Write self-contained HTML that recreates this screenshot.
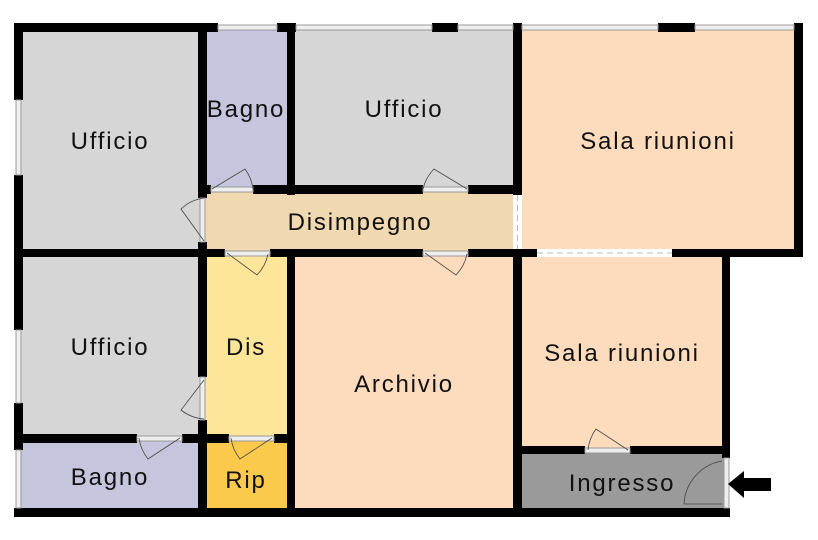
<!DOCTYPE html>
<html><head><style>
html,body{margin:0;padding:0;background:#fff;}
svg{display:block;}
text{font-family:"Liberation Sans",sans-serif;font-size:24px;fill:#111;text-anchor:middle;letter-spacing:1.8px;}
</style></head><body>
<svg width="818" height="540" viewBox="0 0 818 540" xmlns="http://www.w3.org/2000/svg">
<rect x="20" y="28" width="182" height="225" fill="#d6d6d6"/>
<rect x="202" y="28" width="89" height="162" fill="#c5c5de"/>
<rect x="291" y="28" width="227" height="162" fill="#d6d6d6"/>
<rect x="518" y="28" width="280" height="225" fill="#fddcbd"/>
<rect x="202" y="190" width="316" height="63" fill="#f0d8b0"/>
<rect x="20" y="253" width="182" height="186" fill="#d6d6d6"/>
<rect x="202" y="253" width="89" height="186" fill="#fde59a"/>
<rect x="291" y="253" width="227" height="260" fill="#fddcbd"/>
<rect x="518" y="253" width="208" height="197" fill="#fddcbd"/>
<rect x="20" y="439" width="182" height="74" fill="#c5c5de"/>
<rect x="202" y="439" width="89" height="74" fill="#fbc94b"/>
<rect x="518" y="450" width="208" height="63" fill="#9a9a9a"/>
<g fill="#000">
<rect x="14" y="23" width="204" height="9"/>
<rect x="277" y="23" width="19" height="9"/>
<rect x="432" y="23" width="26" height="9"/>
<rect x="513" y="23" width="9" height="9"/>
<rect x="658" y="23" width="37" height="9"/>
<rect x="794" y="23" width="9" height="234"/>
<rect x="14" y="23" width="9" height="77"/>
<rect x="14" y="175" width="9" height="155"/>
<rect x="14" y="403" width="9" height="47"/>
<rect x="14" y="508" width="716" height="9"/>
<rect x="722" y="249" width="8" height="209"/>
<rect x="672" y="249" width="131" height="8"/>
<rect x="198" y="23" width="9" height="175"/>
<rect x="198" y="242" width="9" height="135"/>
<rect x="198" y="420" width="9" height="97"/>
<rect x="287" y="23" width="8" height="172"/>
<rect x="287" y="249" width="8" height="268"/>
<rect x="513" y="23" width="9" height="172"/>
<rect x="513" y="249" width="9" height="268"/>
<rect x="198" y="185" width="13" height="9"/>
<rect x="253" y="185" width="170" height="9"/>
<rect x="468" y="185" width="54" height="9"/>
<rect x="14" y="249" width="211" height="8"/>
<rect x="270" y="249" width="153" height="8"/>
<rect x="468" y="249" width="69" height="8"/>
<rect x="14" y="434" width="123" height="9"/>
<rect x="182" y="434" width="47" height="9"/>
<rect x="274" y="434" width="21" height="9"/>
<rect x="513" y="446" width="72" height="8"/>
<rect x="630" y="446" width="100" height="8"/>
</g>
<g fill="#eee" stroke="#999" stroke-width="1">
<rect x="218" y="25" width="59" height="5"/>
<rect x="296" y="25" width="136" height="5"/>
<rect x="458" y="25" width="55" height="5"/>
<rect x="522" y="25" width="136" height="5"/>
<rect x="695" y="25" width="99" height="5"/>
<rect x="16" y="100" width="5" height="75"/>
<rect x="16" y="330" width="5" height="73"/>
<rect x="16" y="450" width="5" height="58"/>
<rect x="724" y="458" width="5" height="50"/>
<rect x="211" y="187" width="42" height="5"/>
<rect x="423" y="187" width="45" height="5"/>
<rect x="200" y="198" width="5" height="44"/>
<rect x="225" y="251" width="45" height="5"/>
<rect x="423" y="251" width="45" height="5"/>
<rect x="200" y="377" width="5" height="43"/>
<rect x="137" y="436" width="45" height="5"/>
<rect x="229" y="436" width="45" height="5"/>
<rect x="585" y="448" width="45" height="5"/>
</g>
<rect x="513" y="195" width="9" height="54" fill="#fff"/>
<line x1="517.5" y1="195" x2="517.5" y2="249" stroke="#bbb" stroke-dasharray="6,4"/>
<rect x="537" y="249" width="135" height="8" fill="#fff"/>
<line x1="537" y1="253" x2="672" y2="253" stroke="#bbb" stroke-dasharray="6,4"/>
<g fill="none" stroke="#444" stroke-width="0.8">
<path d="M212 189 L245 169 A42 42 0 0 1 253 189"/>
<path d="M467 189 L434 169 A42 42 0 0 0 423 189"/>
<path d="M204 241 L181 209 A42 42 0 0 1 204 198"/>
<path d="M227 253 L257 275 A42 42 0 0 0 268 254"/>
<path d="M425 253 L456 275 A42 42 0 0 0 467 254"/>
<path d="M204 380 L181 410 A42 42 0 0 0 204 419"/>
<path d="M180 438 L148 459 A42 42 0 0 1 139 438"/>
<path d="M272 438 L240 459 A42 42 0 0 1 231 438"/>
<path d="M628 450 L596 429 A42 42 0 0 0 588 450"/>
<path d="M722 461 A46 46 0 0 0 684 504 L722 504"/>
</g>
<polygon points="728,484 744,471 744,478 771,478 771,491 744,491 744,498" fill="#000"/>
<text x="110" y="149">Ufficio</text>
<text x="246" y="117">Bagno</text>
<text x="404" y="117">Ufficio</text>
<text x="658" y="149">Sala riunioni</text>
<text x="360" y="230">Disimpegno</text>
<text x="110" y="355">Ufficio</text>
<text x="246" y="355">Dis</text>
<text x="404" y="392">Archivio</text>
<text x="622" y="361">Sala riunioni</text>
<text x="110" y="485">Bagno</text>
<text x="246" y="488">Rip</text>
<text x="622" y="491">Ingresso</text>
</svg>
</body></html>
